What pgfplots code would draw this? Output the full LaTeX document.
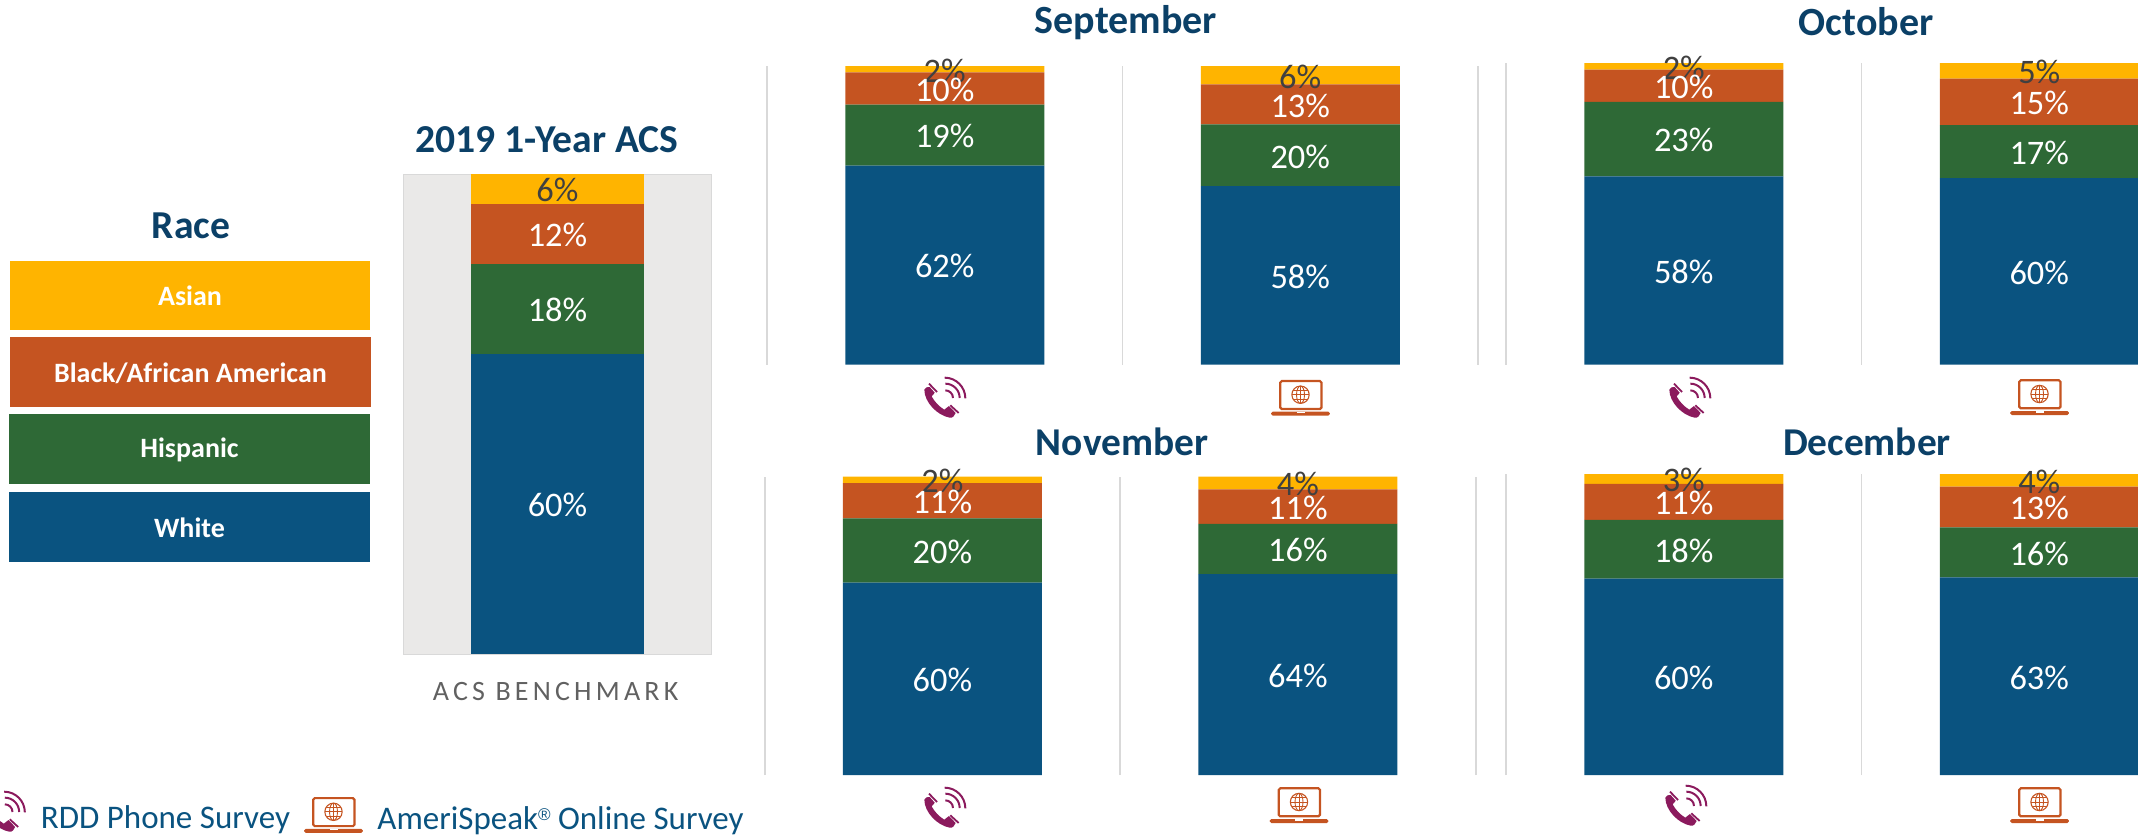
\documentclass[border=0pt]{standalone}
\usepackage{pgfplots}
\pgfplotsset{compat=1.18}
\usepackage{pgfplotstable}
\usepackage{fontspec}
\setmainfont{Carlito}
\newfontfamily\regfont{Liberation Sans}
\usetikzlibrary{calc}
\definecolor{cBlue}{HTML}{0A5380}
\definecolor{cGreen}{HTML}{2E6936}
\definecolor{cOrange}{HTML}{C55421}
\definecolor{cYellow}{HTML}{FFB400}
\definecolor{cTitle}{HTML}{0B4067}
\definecolor{cPhone}{HTML}{8B1A5D}
\definecolor{cGrid}{HTML}{D9D9D9}
\definecolor{cBack}{HTML}{EAE9E8}
\definecolor{cDark}{HTML}{404040}

\pgfplotstableread{
x white hispanic black asian total
0 62 19 10 2 93
1 58 20 13 6 97
}\tSep
\pgfplotstableread{
x white hispanic black asian total
0 58 23 10 2 93
1 60 17 15 5 97
}\tOct
\pgfplotstableread{
x white hispanic black asian total
0 60 20 11 2 93
1 64 16 11 4 95
}\tNov
\pgfplotstableread{
x white hispanic black asian total
0 60 18 11 3 92
1 63 16 13 4 96
}\tDec
\pgfplotstableread{
x white hispanic black asian total
0 60 18 12 6 96
}\tAcs

% one stacked segment: column, fill, label colour, table
\newcommand{\seg}[4]{%
  \addplot[fill=#2, draw=none, point meta=explicit,
    nodes near coords={\pgfmathprintnumber[assume math mode=true]{\pgfplotspointmeta}\%},
    every node near coord/.style={anchor=center, yshift=-0.6pt, text=#3, font=\fontsize{17.2}{18}\selectfont}]
    table[x=x, y expr=\thisrow{#1}/\thisrow{total}*100, meta=#1] {#4};
}
\newcommand{\allseg}[1]{%
  \seg{white}{cBlue}{white}{#1}
  \seg{hispanic}{cGreen}{white}{#1}
  \seg{black}{cOrange}{white}{#1}
  \seg{asian}{cYellow}{cDark}{#1}
}
\pgfplotsset{
  panel/.style={
    scale only axis, ybar stacked, bar shift=0pt, clip=false,
    ymin=0, ymax=100, ytick=\empty, xticklabels={}, tick style={draw=none},
    axis line style={draw=none}, grid=none,
  },
}
% xleft, ytop, ybot, table
\newcommand{\panel}[4]{%
  \pgfmathsetmacro{\ax}{#1*0.5}%
  \pgfmathsetmacro{\ay}{-#3*0.5}%
  \pgfmathsetmacro{\ah}{(#3-#2)*0.5}%
  \begin{axis}[panel, at={(\ax pt,\ay pt)}, anchor=south west,
    width=355.5pt, height=\ah pt, xmin=-0.5, xmax=1.5, bar width=99.5pt,
    xtick={-0.5,0.5,1.5}, xmajorgrids, major grid style={cGrid, line width=0.8pt}]
    \allseg{#4}
  \end{axis}%
}
% icons: drawn in the units of a 3x crop
\newcommand{\phone}[2]{%
  \begin{scope}[shift={(#1-44.67,#2-36.67)}, x=0.16667pt, y=-0.16667pt]
    \fill[cPhone] (72,88) .. controls (74,82) and (82,78) .. (88,80) -- (103,97)
      .. controls (100,103) and (96,105) .. (94,108)
      .. controls (102,124) and (118,140) .. (132,148)
      .. controls (136,146) and (140,140) .. (146,137) -- (166,158)
      .. controls (164,166) and (156,174) .. (148,172)
      .. controls (110,165) and (72,125) .. (72,88) -- cycle;
    \draw[white, line width=0.5pt] (92,69) -- (118,94);
    \draw[white, line width=0.5pt] (145,122) -- (172,148);
    \draw[cPhone, line width=0.9pt] (86,70) -- (110,95);
    \draw[cPhone, line width=0.9pt] (150,135) -- (175,158);
    \draw[cPhone, line width=1pt] (135,90) arc[start angle=-90, end angle=0, radius=23];
    \draw[cPhone, line width=1pt] (135,70) arc[start angle=-90, end angle=0, radius=43];
    \draw[cPhone, line width=1pt] (133,52) arc[start angle=-90, end angle=0, radius=62];
  \end{scope}%
}
\newcommand{\laptop}[2]{%
  \begin{scope}[shift={(#1-400.67,#2-36.67)}, x=0.16667pt, y=-0.16667pt]
    \draw[cOrange, line width=1.1pt, rounded corners=0.8pt] (1141,63) rectangle (1265,147);
    \fill[cOrange, rounded corners=0.8pt] (1114,155) rectangle (1290,167);
    \fill[white] (1190,155) rectangle (1214,160);
    \draw[cOrange, line width=0.55pt] (1202,104) circle[radius=26];
    \draw[cOrange, line width=0.45pt] (1202,104) ellipse[x radius=12, y radius=26];
    \draw[cOrange, line width=0.45pt] (1202,78) -- (1202,130);
    \draw[cOrange, line width=0.45pt] (1176,104) -- (1228,104);
    \draw[cOrange, line width=0.45pt] (1180,91) -- (1224,91);
    \draw[cOrange, line width=0.45pt] (1180,117) -- (1224,117);
  \end{scope}%
}
\newcommand{\legbox}[5]{%
  \fill[#4] (#1) rectangle (#2);
  \node[text=white, font=\fontsize{14}{15}\bfseries\selectfont] at ($(#1)!0.5!(#2)+(0,#5)$) {#3};
}
\begin{document}
\begin{tikzpicture}[x=0.5pt, y=-0.5pt]
\path[use as bounding box, clip] (0,0) rectangle (2138,836);

% legend
\node[text=cTitle, font=\fontsize{19.8}{21}\bfseries\selectfont] at (191,226) {Race};
\legbox{10,261}{370,330}{Asian}{cYellow}{0}
\legbox{10,337}{371,407}{Black/African American}{cOrange}{1}
\legbox{9,414}{370,484}{Hispanic}{cGreen}{1}
\legbox{9,492}{370,562}{White}{cBlue}{1}

% benchmark
\begin{axis}[panel, at={(201.5pt,-327pt)}, anchor=south west,
  width=154.5pt, height=240pt, xmin=-0.5, xmax=0.5, bar width=86.5pt,
  xtick=\empty, axis background/.style={fill=cBack},
  axis line style={draw=cGrid, line width=0.5pt}]
  \allseg{\tAcs}
\end{axis}
\node[text=cTitle, font=\fontsize{19.8}{21}\bfseries\selectfont] at (547,140) {2019 1-Year ACS};
\node[text=black!62, font=\fontsize{14}{16}\selectfont] at (555.6,691)
  {\addfontfeatures{LetterSpace=15}ACS BENCHMARK};

% monthly panels
\panel{767}{66}{364.5}{\tSep}
\panel{1506}{63}{364.5}{\tOct}
\panel{764.7}{476.7}{775}{\tNov}
\panel{1506}{474}{775}{\tDec}

\node[text=cTitle, font=\fontsize{20}{21}\bfseries\selectfont] at (1126,23) {September};
\node[text=cTitle, font=\fontsize{20}{21}\bfseries\selectfont] at (1866,22) {October};
\node[text=cTitle, font=\fontsize{19.7}{21}\bfseries\selectfont] at (1122,442) {November};
\node[text=cTitle, font=\fontsize{19.7}{21}\bfseries\selectfont] at (1867,442) {December};

% icons
\phone{945}{397}\laptop{1300.5}{396.7}
\phone{1690}{397}\laptop{2039.5}{396}
\phone{945}{807}\laptop{1299}{804}
\phone{1686}{805}\laptop{2039.5}{804}

% bottom key
\phone{4.5}{811}\laptop{333.5}{813.8}
\node[text=cBlue, font=\fontsize{16.5}{18}\selectfont, anchor=west, inner sep=0pt] at (40.5,820) {RDD Phone Survey};
\node[text=cBlue, font=\fontsize{16.5}{18}\selectfont, anchor=west, inner sep=0pt] at (377,821) {AmeriSpeak\raisebox{4.5pt}{\regfont\fontsize{8.5}{9}\selectfont ®} Online Survey};
\end{tikzpicture}
\end{document}
